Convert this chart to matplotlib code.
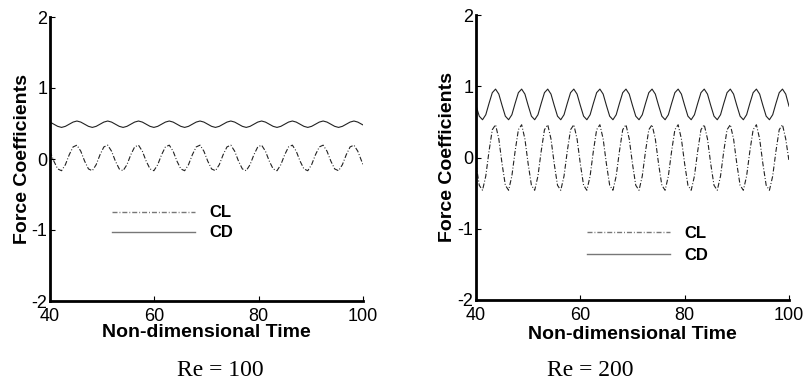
import numpy as np
import matplotlib
matplotlib.use('Agg')
import matplotlib.pyplot as plt
from matplotlib import rc
rc('font', family='Liberation Sans')
rc('lines', scale_dashes=False)
rc('axes', unicode_minus=False)

#---------------data-------------------------------------------
# Re = 100 : samples every 0.7375 time units (8 per shedding period), last at t=100
t_100 = np.append(40 + 0.7375 * np.arange(82), 100.0)
cl_100 = [0.11, -0.03, -0.14, -0.165, -0.08, 0.06, 0.17, 0.195,
          0.11, -0.03, -0.14, -0.165, -0.08, 0.06, 0.17, 0.195,
          0.11, -0.03, -0.14, -0.165, -0.08, 0.06, 0.17, 0.195,
          0.11, -0.03, -0.14, -0.165, -0.08, 0.06, 0.17, 0.195,
          0.11, -0.03, -0.14, -0.165, -0.08, 0.06, 0.17, 0.195,
          0.11, -0.03, -0.14, -0.165, -0.08, 0.06, 0.17, 0.195,
          0.11, -0.03, -0.14, -0.165, -0.08, 0.06, 0.17, 0.195,
          0.11, -0.03, -0.14, -0.165, -0.08, 0.06, 0.17, 0.195,
          0.11, -0.03, -0.14, -0.165, -0.08, 0.06, 0.17, 0.195,
          0.11, -0.03, -0.14, -0.165, -0.08, 0.06, 0.17, 0.195,
          0.11, -0.03, -0.08]
cd_100 = [0.52, 0.49, 0.46, 0.445, 0.46, 0.49, 0.52, 0.535,
          0.52, 0.49, 0.46, 0.445, 0.46, 0.49, 0.52, 0.535,
          0.52, 0.49, 0.46, 0.445, 0.46, 0.49, 0.52, 0.535,
          0.52, 0.49, 0.46, 0.445, 0.46, 0.49, 0.52, 0.535,
          0.52, 0.49, 0.46, 0.445, 0.46, 0.49, 0.52, 0.535,
          0.52, 0.49, 0.46, 0.445, 0.46, 0.49, 0.52, 0.535,
          0.52, 0.49, 0.46, 0.445, 0.46, 0.49, 0.52, 0.535,
          0.52, 0.49, 0.46, 0.445, 0.46, 0.49, 0.52, 0.535,
          0.52, 0.49, 0.46, 0.445, 0.46, 0.49, 0.52, 0.535,
          0.52, 0.49, 0.46, 0.445, 0.46, 0.49, 0.52, 0.535,
          0.52, 0.49, 0.48]

# Re = 200 : samples every 0.625 time units (8 per shedding period)
t_200 = np.linspace(40, 100, 97)
cl_200 = [-0.09, -0.39, -0.46, -0.26, 0.09, 0.39, 0.46, 0.26,
          -0.09, -0.39, -0.46, -0.26, 0.09, 0.39, 0.46, 0.26,
          -0.09, -0.39, -0.46, -0.26, 0.09, 0.39, 0.46, 0.26,
          -0.09, -0.39, -0.46, -0.26, 0.09, 0.39, 0.46, 0.26,
          -0.09, -0.39, -0.46, -0.26, 0.09, 0.39, 0.46, 0.26,
          -0.09, -0.39, -0.46, -0.26, 0.09, 0.39, 0.46, 0.26,
          -0.09, -0.39, -0.46, -0.26, 0.09, 0.39, 0.46, 0.26,
          -0.09, -0.39, -0.46, -0.26, 0.09, 0.39, 0.46, 0.26,
          -0.09, -0.39, -0.46, -0.26, 0.09, 0.39, 0.46, 0.26,
          -0.09, -0.39, -0.46, -0.26, 0.09, 0.39, 0.46, 0.26,
          -0.09, -0.39, -0.46, -0.26, 0.09, 0.39, 0.46, 0.26,
          -0.09, -0.39, -0.46, -0.26, 0.09, 0.39, 0.46, 0.26,
          -0.05]
cd_200 = [0.73, 0.58, 0.53, 0.60, 0.76, 0.91, 0.96, 0.89,
          0.73, 0.58, 0.53, 0.60, 0.76, 0.91, 0.96, 0.89,
          0.73, 0.58, 0.53, 0.60, 0.76, 0.91, 0.96, 0.89,
          0.73, 0.58, 0.53, 0.60, 0.76, 0.91, 0.96, 0.89,
          0.73, 0.58, 0.53, 0.60, 0.76, 0.91, 0.96, 0.89,
          0.73, 0.58, 0.53, 0.60, 0.76, 0.91, 0.96, 0.89,
          0.73, 0.58, 0.53, 0.60, 0.76, 0.91, 0.96, 0.89,
          0.73, 0.58, 0.53, 0.60, 0.76, 0.91, 0.96, 0.89,
          0.73, 0.58, 0.53, 0.60, 0.76, 0.91, 0.96, 0.89,
          0.73, 0.58, 0.53, 0.60, 0.76, 0.91, 0.96, 0.89,
          0.73, 0.58, 0.53, 0.60, 0.76, 0.91, 0.96, 0.89,
          0.73, 0.58, 0.53, 0.60, 0.76, 0.91, 0.96, 0.89,
          0.72]

xticks = [40, 60, 80, 100]
yticks = [-2, -1, 0, 1, 2]
labels = ['CL', 'CD']
titles = ['Re = 100', 'Re = 200']
#---------------------------------------------------------------


def draw_panel(ax, t, cl, cd, leg_xy, leg_space, xlab_y, ylab_x):
    l1, = ax.plot(t, cl, color='#222222', lw=0.8, dashes=(3.6, 1.4, 0.7, 1.4))
    l2, = ax.plot(t, cd, color='#222222', lw=0.8)
    ax.set_xlim(40, 100)
    ax.set_ylim(-2, 2)
    ax.set_xticks(xticks)
    ax.set_yticks(yticks)
    for s in ['top', 'right']:
        ax.spines[s].set_visible(False)
    for s in ['left', 'bottom']:
        ax.spines[s].set_linewidth(2.0)
    ax.tick_params(direction='in', length=3.5, width=0.8, labelsize=13)
    ax.tick_params(axis='x', pad=5.0)
    ax.tick_params(axis='y', pad=2.0)
    ax.set_xlabel('Non-dimensional Time', fontsize=14, fontweight='bold')
    ax.set_ylabel('Force Coefficients', fontsize=14, fontweight='bold')
    ax.xaxis.set_label_coords(0.5, xlab_y)
    ax.yaxis.set_label_coords(ylab_x, 0.5)
    ax.patch.set_visible(False)
    leg = ax.legend([l1, l2], labels, loc='center left', bbox_to_anchor=leg_xy,
                    frameon=False, handlelength=5.0, handletextpad=0.85,
                    labelspacing=leg_space, borderpad=0, borderaxespad=0,
                    prop={'weight': 'bold', 'size': 12})
    for ln in leg.get_lines():
        ln.set_color('#777777')
        ln.set_linewidth(1.0)


fig = plt.figure(figsize=(8.04, 3.85), dpi=100)
ax1 = fig.add_axes([50/804, 84/385, 313/804, 284/385])
ax2 = fig.add_axes([476/804, 85/385, 313/804, 285/385])

draw_panel(ax1, t_100, cl_100, cd_100, (0.197, 0.275), 0.3, -0.08, -0.06)
draw_panel(ax2, t_200, cl_200, cd_200, (0.354, 0.195), 0.45, -0.09, -0.064)

fig.text(220/804, 1 - 371/385, titles[0], family='Liberation Serif', size=17,
         ha='center', va='center')
fig.text(590/804, 1 - 370/385, titles[1], family='Liberation Serif', size=17,
         ha='center', va='center')

plt.savefig('out.png', dpi=100)
